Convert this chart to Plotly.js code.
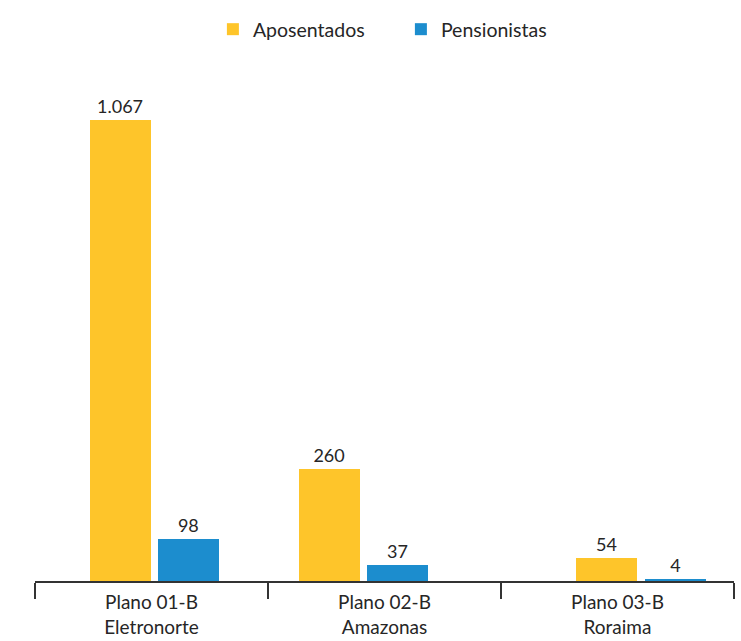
<!DOCTYPE html>
<html>
<head>
<meta charset="utf-8">
<script src="https://cdn.plot.ly/plotly-3.0.1.min.js"></script>
<style>html,body{margin:0;padding:0;background:#fff;}</style>
</head>
<body>
<div id="chart" style="width:741px;height:641px;"></div>
<script>
// Data
const categories = ["Plano 01-B<br>Eletronorte", "Plano 02-B<br>Amazonas", "Plano 03-B<br>Roraima"];
const aposentados = [1067, 260, 54];
const pensionistas = [98, 37, 4];
const seriesNames = ["Aposentados", "Pensionistas"];

// Style (bar placement within each category, as in the reference)
const barWidth = 0.262;
const offsetsAposentados = [-0.266, -0.369, -0.178];
const offsetsPensionistas = [0.027, -0.075, 0.118];
const FONT = "Lato, 'Open Sans', sans-serif";
const TEXT = "#262626";

const traces = [
  {
    type: "bar", name: seriesNames[0], x: categories, y: aposentados,
    marker: {color: "#FEC52A"}, width: barWidth, offset: offsetsAposentados,
    texttemplate: "%{y:,d}", textposition: "outside", cliponaxis: false,
    textfont: {family: FONT, size: 18, color: TEXT}, hoverinfo: "none"
  },
  {
    type: "bar", name: seriesNames[1], x: categories, y: pensionistas,
    marker: {color: "#1C8DCE"}, width: barWidth, offset: offsetsPensionistas,
    texttemplate: "%{y:,d}", textposition: "outside", cliponaxis: false,
    textfont: {family: FONT, size: 18, color: TEXT}, hoverinfo: "none"
  }
];

const layout = {
  width: 741, height: 641,
  margin: {l: 35, r: 7, t: 62, b: 60},
  paper_bgcolor: "#fff", plot_bgcolor: "#fff",
  separators: ",.",
  font: {family: FONT, size: 18, color: TEXT},
  showlegend: true,
  legend: {
    orientation: "h", x: 0.2545, xanchor: "left",
    y: 1 - 10 / 641, yref: "container", yanchor: "top",
    font: {family: FONT, size: 19.5, color: TEXT},
    entrywidth: 143, entrywidthmode: "pixels",
    itemwidth: 30, traceorder: "normal"
  },
  xaxis: {
    type: "category", tickson: "boundaries",
    showline: true, linecolor: "#333", linewidth: 2,
    ticks: "outside", ticklen: 16, tickwidth: 2, tickcolor: "#333",
    ticklabelstandoff: 3,
    showgrid: false, zeroline: false,
    tickfont: {family: FONT, size: 19, color: TEXT},
    fixedrange: true
  },
  yaxis: {
    range: [0, 1200], visible: false, showgrid: false, zeroline: false,
    fixedrange: true
  },
  bargap: 0
};

Plotly.newPlot("chart", traces, layout, {displayModeBar: false, staticPlot: true});
</script>
</body>
</html>
